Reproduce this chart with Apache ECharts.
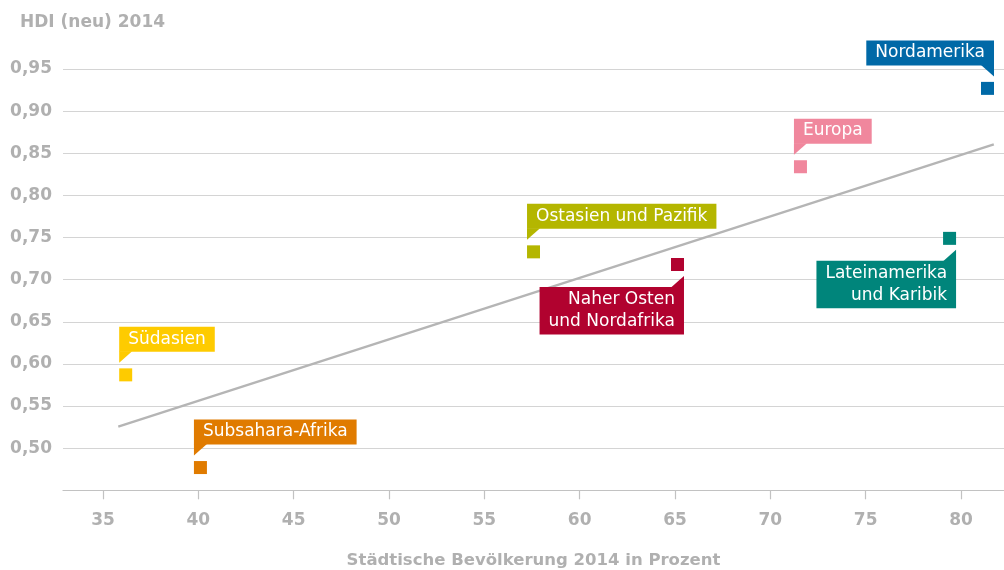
<!DOCTYPE html>
<html>
<head>
<meta charset="utf-8">
<script src="https://cdn.jsdelivr.net/npm/echarts@6/dist/echarts.min.js"></script>
<style>
html,body{margin:0;padding:0;background:#fff;}
#chart{width:1004px;height:570px;}
</style>
</head>
<body>
<div id="chart"></div>
<script>
var regions = ['Nordamerika','Europa','Lateinamerika und Karibik','Ostasien und Pazifik','Naher Osten und Nordafrika','Südasien','Subsahara-Afrika'];
var labelTexts = ['Nordamerika','Europa','Lateinamerika\nund Karibik','Ostasien und Pazifik','Naher Osten\nund Nordafrika','Südasien','Subsahara-Afrika'];
var urbanShare = [81.39, 71.58, 79.40, 57.58, 65.13, 36.19, 40.11];
var hdiValues = [0.927, 0.834, 0.749, 0.733, 0.718, 0.587, 0.477];
var regionColors = ['#0069a7','#f0879d','#00857b','#b4b600','#b1022f','#fecb00','#e07b00'];
var trendX = [35.80, 81.72];
var trendY = [0.5255, 0.8606];
var xTicks = [35,40,45,50,55,60,65,70,75,80];
var yTicks = [0.50,0.55,0.60,0.65,0.70,0.75,0.80,0.85,0.90,0.95];

var labelPlacement = {
  'Nordamerika':'above-right',
  'Europa':'above-left',
  'Lateinamerika und Karibik':'below-right',
  'Ostasien und Pazifik':'above-left',
  'Naher Osten und Nordafrika':'below-right',
  'Südasien':'above-left',
  'Subsahara-Afrika':'above-left'
};

var FONT = '"DejaVu Sans", sans-serif';
var GRAY = '#b0b0b0';
var SQ = 13;

var pointData = regions.map(function(r, i){ return [urbanShare[i], hdiValues[i], i]; });
var trendData = trendX.map(function(x, i){ return [x, trendY[i]]; });

var chart = echarts.init(document.getElementById('chart'), null, {renderer:'canvas'});
chart.setOption({
  animation: false,
  backgroundColor: '#fff',
  title: {
    text: 'HDI (neu) 2014',
    left: 20, top: 13, padding: 0,
    textStyle: {fontFamily: FONT, fontWeight: 'bold', fontSize: 17, color: GRAY, lineHeight: 20}
  },
  grid: {left: 63, right: 0, top: 69, bottom: 79.7, containLabel: false, outerBoundsMode: 'none'},
  xAxis: {
    type: 'value',
    min: 32.902, max: 82.255,
    name: 'Städtische Bevölkerung 2014 in Prozent',
    nameLocation: 'middle',
    nameGap: 62,
    nameTextStyle: {fontFamily: FONT, fontWeight: 'bold', fontSize: 16.5, color: GRAY},
    axisLine: {show: true, lineStyle: {color: '#c2c2c2', width: 1.2}},
    axisTick: {show: true, length: 9, lineStyle: {color: '#c2c2c2', width: 1.2}, customValues: xTicks},
    axisLabel: {customValues: xTicks, margin: 22, fontFamily: FONT, fontWeight: 'bold', fontSize: 17, color: GRAY},
    splitLine: {show: false}
  },
  yAxis: {
    type: 'value',
    min: 0.45, max: 0.95, interval: 0.05,
    axisLine: {show: false},
    axisTick: {show: false},
    axisLabel: {
      showMinLabel: false, margin: 11,
      fontFamily: FONT, fontWeight: 'bold', fontSize: 17, color: GRAY,
      formatter: function(v){ return v.toFixed(2).replace('.', ','); }
    },
    splitLine: {show: true, lineStyle: {color: '#d4d4d4', width: 1.2}}
  },
  series: [
    {
      type: 'line',
      data: trendData,
      symbol: 'none',
      lineStyle: {color: '#b5b5b5', width: 2.4},
      silent: true,
      z: 2
    },
    {
      type: 'scatter',
      data: pointData,
      symbol: 'rect',
      symbolSize: SQ,
      itemStyle: {opacity: 1, color: function(p){ return regionColors[p.data[2]]; }},
      silent: true,
      z: 3
    },
    {
      type: 'custom',
      data: pointData,
      silent: true,
      z: 4,
      renderItem: function(params, api){
        var idx = api.value(2);
        var p = api.coord([api.value(0), api.value(1)]);
        var place = labelPlacement[regions[idx]];
        var color = regionColors[idx];
        var half = SQ / 2;
        var left = p[0] - half, right = p[0] + half;
        var top = p[1] - half, bottom = p[1] + half;
        var tx, ty, align, valign, tri;
        if (place === 'above-left') {
          ty = top - 16.5; tx = left; align = 'left'; valign = 'bottom';
          tri = [[left, ty - 0.5], [left + 13, ty - 0.5], [left, ty + 11]];
        } else if (place === 'above-right') {
          ty = top - 16.5; tx = right; align = 'right'; valign = 'bottom';
          tri = [[right, ty - 0.5], [right - 13, ty - 0.5], [right, ty + 11]];
        } else {
          ty = bottom + 16; tx = right; align = 'right'; valign = 'top';
          tri = [[right, ty + 0.5], [right - 13, ty + 0.5], [right, ty - 11]];
        }
        return {
          type: 'group',
          children: [
            {type: 'polygon', shape: {points: tri}, style: {fill: color}},
            {
              type: 'text', x: tx, y: ty,
              style: {
                text: labelTexts[idx],
                fill: '#ffffff',
                font: '17px ' + FONT,
                lineHeight: 22.5,
                align: align,
                verticalAlign: valign,
                backgroundColor: color,
                padding: [1, 9, 1.5, 9]
              }
            }
          ]
        };
      }
    }
  ]
});
</script>
</body>
</html>
